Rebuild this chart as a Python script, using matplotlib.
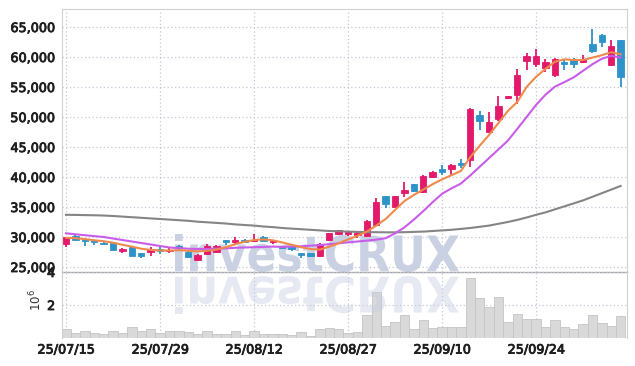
import numpy as np
import matplotlib
matplotlib.use("Agg")
import matplotlib.pyplot as plt
from matplotlib.textpath import TextPath
from matplotlib.patches import PathPatch
from matplotlib.font_manager import FontProperties
from matplotlib.transforms import Affine2D
import matplotlib.patheffects as pe

plt.rcParams['font.family'] = ['Liberation Sans Narrow', 'DejaVu Sans']

# ---------------- data ----------------
opens = [28850, 30100, 29700, 29500, 29050, 28950, 27700, 28330, 27280, 27550,
         28050, 27700, 28450, 27550, 26250, 27250, 27450, 29500, 29150, 29450,
         29300, 30000, 29200, 28450, 28450, 27330, 27280, 26780, 29450, 30450,
         30500, 30280, 30220, 32000, 36830, 35050, 37280, 38830, 37450, 40050,
         41380, 41330, 42330, 42830, 50330, 47550, 49620, 53170, 53670, 59380,
         58830, 58220, 57000, 59120, 59550, 59120, 62170, 63670, 58670, 62830]
highs = [30050, 30300, 29800, 29550, 29250, 29000, 28150, 28400, 27350, 28300,
         28300, 28200, 28650, 27700, 27100, 28900, 28700, 29550, 30000, 29600,
         30450, 30100, 29500, 28500, 28550, 27400, 27350, 28950, 30700, 31250,
         31050, 30900, 32900, 36550, 36900, 36900, 39170, 38900, 40400, 40950,
         41950, 42100, 42950, 51500, 51000, 50830, 53500, 53550, 58000, 60670,
         61330, 59620, 59800, 59670, 59830, 60330, 64670, 63800, 62830, 62900]
lows = [28400, 29450, 28550, 28650, 28700, 27850, 27300, 26850, 26450, 26830,
        27150, 27350, 27850, 26500, 26000, 27300, 27400, 28670, 28850, 29000,
        29200, 29300, 28900, 28100, 27700, 26550, 26700, 26700, 29350, 30300,
        30150, 29900, 30100, 31900, 34800, 35000, 36720, 37500, 37300, 39900,
        40330, 40330, 41500, 41670, 47830, 47300, 49400, 53000, 52100, 57830,
        58330, 57500, 56700, 57830, 58170, 59000, 60600, 61670, 58500, 55050]
closes = [29950, 29500, 29350, 29100, 28900, 27900, 28000, 26880, 26880, 27950,
          27700, 27900, 28150, 26600, 27000, 28500, 28500, 29150, 29500, 29250,
          29550, 29400, 29300, 28250, 27950, 27050, 26780, 28780, 30620, 31170,
          30950, 30620, 32670, 35880, 35500, 36830, 37830, 37720, 40170, 40830,
          40880, 42000, 42050, 51330, 49330, 49220, 51830, 53450, 57000, 60170,
          60170, 59120, 59670, 58880, 58880, 59670, 61050, 62450, 61830, 56720]
ma_short = [29880, 29800, 29650, 29450, 29300, 29050, 28700, 28400, 28050, 27850,
            27750, 27750, 27800, 27700, 27600, 27700, 27900, 28300, 28800, 29200,
            29500, 29600, 29450, 29100, 28700, 28300, 28000, 27900, 28400, 28950,
            29600, 30200, 30900, 31900, 33000, 34500, 36000, 37000, 37900, 38800,
            39600, 40300, 41000, 43300, 45200, 47000, 49000, 51000, 52500, 55000,
            56700, 58000, 59200, 59600, 59500, 59500, 59900, 60300, 60800, 60450]
ma_mid = [30620, 30450, 30300, 30150, 30000, 29750, 29500, 29250, 29000, 28750,
          28500, 28250, 28150, 28050, 28000, 28000, 28050, 28100, 28200, 28250,
          28300, 28350, 28400, 28350, 28400, 28450, 28550, 28650, 28800, 28950,
          29100, 29250, 29400, 29550, 29800, 30600, 31600, 32900, 34300, 35800,
          37200, 38100, 38900, 40250, 41700, 43150, 44600, 46050, 48000, 50000,
          52000, 53700, 55050, 55800, 56600, 57700, 58800, 59700, 60200, 59900]
ma_long = [33700, 33680, 33650, 33620, 33580, 33500, 33400, 33300, 33200, 33100,
           33000, 32900, 32800, 32700, 32550, 32450, 32350, 32250, 32100, 32000,
           31900, 31750, 31650, 31500, 31400, 31300, 31200, 31100, 31000, 30950,
           30900, 30850, 30800, 30800, 30780, 30780, 30800, 30850, 30900, 31000,
           31100, 31200, 31350, 31500, 31700, 31900, 32200, 32500, 32850, 33250,
           33700, 34100, 34600, 35100, 35600, 36100, 36700, 37300, 37900, 38500]
volumes = [0.55, 0.28, 0.40, 0.28, 0.22, 0.40, 0.28, 0.65, 0.40, 0.53,
           0.28, 0.44, 0.44, 0.35, 0.22, 0.44, 0.26, 0.26, 0.44, 0.16,
           0.44, 0.22, 0.22, 0.22, 0.16, 0.35, 0.12, 0.53, 0.59, 0.53,
           0.30, 0.35, 1.37, 2.77, 0.73, 0.95, 1.37, 0.55, 1.07, 0.62,
           0.67, 0.67, 0.67, 3.62, 2.41, 1.88, 2.48, 0.95, 1.44, 1.15,
           1.15, 0.67, 1.07, 0.67, 0.55, 0.83, 1.37, 0.91, 0.73, 1.31]  # x 1e6
date_tick_pos = [0, 10, 20, 30, 40, 50]
date_tick_labels = ['25/07/15', '25/07/29', '25/08/12', '25/08/27', '25/09/10', '25/09/24']
price_ticks = [25000, 30000, 35000, 40000, 45000, 50000, 55000, 60000, 65000]
vol_ticks = [2, 4]

# ---------------- figure ----------------
W, H = 635, 366
fig = plt.figure(figsize=(W / 100, H / 100), dpi=100)
L, R = 62 / W, 627 / W
ax = fig.add_axes([L, 1 - 272 / H, R - L, (272 - 9) / H])
axv = fig.add_axes([L, 1 - 338 / H, R - L, (338 - 272) / H], sharex=ax)
for a in (ax, axv):
    a.set_facecolor('none')

UP, DOWN = '#e3196b', '#2e93c9'
x = np.arange(len(opens))
o = np.array(opens); c = np.array(closes)
hi = np.array(highs); lo = np.array(lows)
up = c >= o
cols = np.where(up, UP, DOWN)
body_bot = np.minimum(o, c)
body_h = np.maximum(np.abs(c - o), 120)

ax.vlines(x, lo, hi, colors=cols, linewidth=1.3, zorder=3)
ax.bar(x, body_h, bottom=body_bot, width=0.68, color=cols, edgecolor=cols,
       linewidth=0.6, zorder=4)

ax.plot(x, ma_long, color='#858585', lw=1.5, zorder=5)
ax.plot(x, ma_mid, color='#c95de9', lw=1.5, zorder=5)
ax.plot(x, ma_short, color='#ef8a4c', lw=1.5, zorder=6)

TXTC = '#1e1e1e'
TICKFONT = dict(labelsize=9.2, labelcolor=TXTC)
bolden = [pe.withStroke(linewidth=0.6, foreground=TXTC)]

ax.set_ylim(24167, 68000)
ax.set_xlim(-0.43, 59.68)
ax.set_yticks(price_ticks)
ax.set_yticklabels([f'{v:,}' for v in price_ticks])
ax.set_xticks(date_tick_pos)
ax.tick_params(axis='x', labelbottom=False, length=0)
ax.tick_params(axis='y', length=0, pad=5, **TICKFONT)
ax.grid(True, linestyle=(0, (1, 2)), color='#c3c8d8', linewidth=0.9)
ax.set_axisbelow(True)
for s in ('left', 'top', 'right'):
    ax.spines[s].set_color('#d0d0d0')
ax.spines['bottom'].set_color('#a8a8a8')
ax.spines['bottom'].set_linewidth(1.0)

axv.bar(x, volumes, width=1.0, color='#d9d9d9', edgecolor='#c4c4c4', linewidth=0.6, zorder=2)
axv.set_ylim(0, 4)
axv.set_yticks(vol_ticks)
axv.set_yticklabels([str(v) for v in vol_ticks])
axv.set_xticks(date_tick_pos)
axv.set_xticklabels(date_tick_labels)
axv.tick_params(axis='both', length=0, **TICKFONT)
axv.tick_params(axis='y', pad=5)
axv.tick_params(axis='x', pad=4)
axv.grid(True, linestyle=(0, (1, 2)), color='#c3c8d8', linewidth=0.9)
axv.set_axisbelow(True)
axv.spines['top'].set_visible(False)
axv.spines['bottom'].set_visible(False)
axv.spines['left'].set_color('#d0d0d0')
axv.spines['right'].set_color('#d0d0d0')
for t in ax.get_yticklabels() + axv.get_yticklabels() + axv.get_xticklabels():
    t.set_path_effects(bolden)
fig.text(36 / W, 1 - 300 / H, r'$10^6$', rotation=90, ha='center', va='center',
         fontsize=8.5, color='#333333', family='DejaVu Serif')

# ---------------- watermark ----------------
tp = TextPath((0, 0), 'investCRUX', prop=FontProperties(family='DejaVu Sans', weight='bold'), size=10)
ext = tp.get_extents()
x0_, y0_, w_, h_ = ext.x0, ext.y0, ext.width, ext.height
tx_l, tx_r = 175, 459
top_px, base_px = 234, 272
sx = (tx_r - tx_l) / W / w_
sy = (base_px - top_px) / H / h_
tr_up = Affine2D().translate(-x0_, -y0_).scale(sx, sy).translate(tx_l / W, 1 - base_px / H)
p1 = PathPatch(tr_up.transform_path(tp), facecolor='#c4cce0', edgecolor='none', alpha=0.9,
               transform=fig.transFigure, zorder=1, clip_on=False)
ax.add_artist(p1)
tr_dn = Affine2D().translate(-x0_, -y0_).scale(sx, -sy).translate(tx_l / W, 1 - 276 / H)
p2 = PathPatch(tr_dn.transform_path(tp), facecolor='#c4cce0', edgecolor='none', alpha=0.42,
               transform=fig.transFigure, zorder=3, clip_on=False)
axv.add_artist(p2)

fig.savefig('out.png', dpi=100)
